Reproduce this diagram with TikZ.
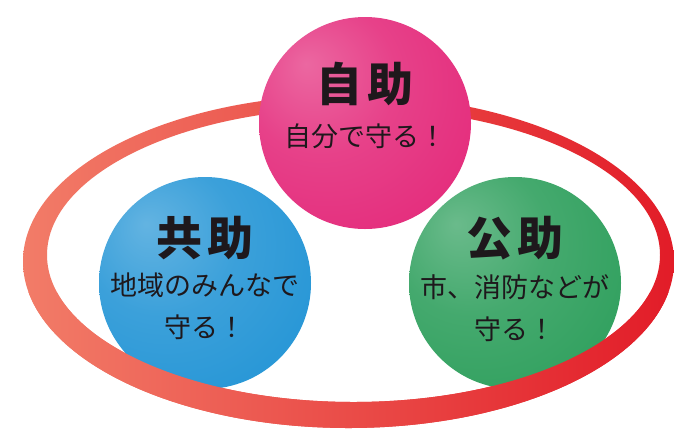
\documentclass[tikz,border=0pt]{standalone}
\usepackage{fontspec}
\usepackage{xcolor}
\usepackage{tikz}
\usetikzlibrary{positioning}

\newfontfamily\jpfont{Noto Sans CJK JP}

\definecolor{pinkball}{RGB}{228,44,124}
\definecolor{blueball}{RGB}{38,150,214}
\definecolor{greenball}{RGB}{48,160,94}
\definecolor{ringlight}{RGB}{242,124,104}
\definecolor{ringmid}{RGB}{234,66,60}
\definecolor{ringdark}{RGB}{226,28,40}
\definecolor{inktext}{RGB}{30,24,28}

% soft sphere, lighter towards the upper left
\colorlet{ballcol}{pinkball}
\pgfdeclareradialshading[ballcol]{softball}{\pgfqpoint{-14bp}{14bp}}{%
  color(0bp)=(ballcol!72!white); color(18bp)=(ballcol!90!white);
  color(38bp)=(ballcol); color(56bp)=(ballcol!88!black);
  color(72bp)=(ballcol!78!black)}

\begin{document}
\begin{tikzpicture}[
    x=1pt, y=-1pt,
    ballcolor/.code={\colorlet{ballcol}{#1}},
    ball/.style={circle, inner sep=0pt, minimum size=212pt, shading=softball, ballcolor=#1},
    title/.style={font=\jpfont\bfseries\fontsize{46pt}{46pt}\selectfont, text=inktext},
    sub/.style={font=\jpfont\fontsize{27pt}{42pt}\selectfont, text=inktext, align=center},
    ring/.style={even odd rule, left color=ringlight, middle color=ringmid, right color=ringdark}
]
\useasboundingbox[fill=white] (0,0) rectangle (674,432);

% ring behind the spheres
\shade[ring] (348.5,261.5) ellipse [x radius=325.5pt, y radius=166.5pt]
             (353.5,255) ellipse [x radius=306.5pt, y radius=147pt];

% the three spheres
\node[ball=pinkball]  (jijo)  at (365,123) {};
\node[ball=blueball]  (kyojo) at (205,283) {};
\node[ball=greenball] (kojo)  at (515,283) {};

% front part of the ring, over the lower spheres
\begin{scope}
  \clip (0,292) rectangle (674,432);
  \shade[ring] (348.5,261.5) ellipse [x radius=325.5pt, y radius=166.5pt]
               (353.5,255) ellipse [x radius=306.5pt, y radius=147pt];
\end{scope}

% labels
\node[title] (jijo-t)  at (jijo.center)  [yshift=39pt] {自\kern6pt 助};
\node[sub]   (jijo-s)  at (jijo.center)  [yshift=-13pt] {自分で守る！};

\node[title] (kyojo-t) at (kyojo.center) [yshift=45pt] {共\kern6pt 助};
\node[sub]   (kyojo-s) at (kyojo.center) [yshift=-23pt] {地域のみんなで\\守る！};

\node[title] (kojo-t)  at (kojo.center)  [yshift=45pt] {公\kern6pt 助};
\node[sub]   (kojo-s)  at (kojo.center)  [yshift=-25pt] {市、消防などが\\守る！};

\end{tikzpicture}
\end{document}
